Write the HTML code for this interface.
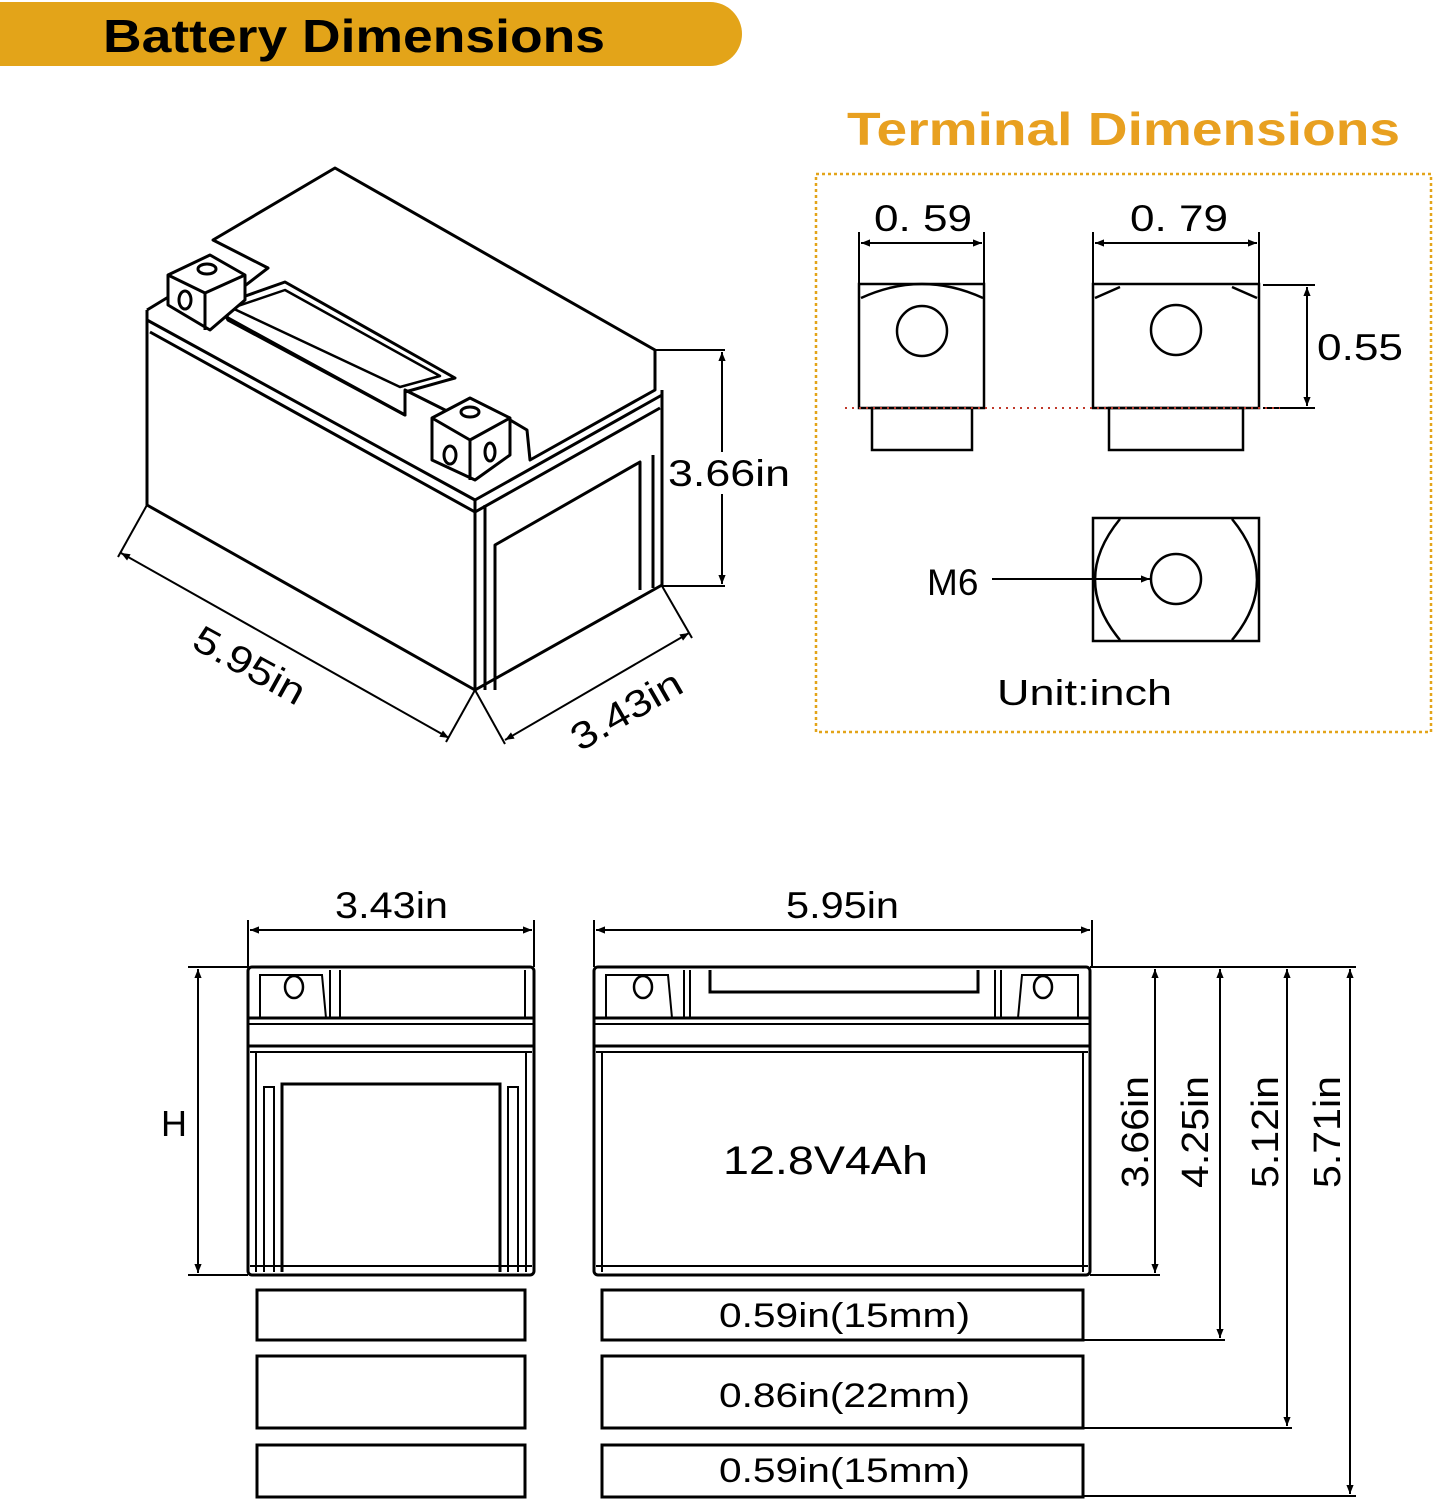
<!DOCTYPE html>
<html><head><meta charset="utf-8"><style>
html,body{margin:0;padding:0;background:#fff;}
svg{display:block;}
text{font-family:"Liberation Sans",sans-serif;}
</style></head><body>
<svg width="1436" height="1500" viewBox="0 0 1436 1500" xmlns="http://www.w3.org/2000/svg">
<defs>
<marker id="a" viewBox="0 0 10 10" refX="10" refY="5" markerWidth="18" markerHeight="9" orient="auto-start-reverse" markerUnits="userSpaceOnUse"><path d="M0,1 L10,5 L0,9 z" fill="#000"/></marker>
</defs>
<path d="M0,2 H710 A32,32 0 0 1 710,66 H0 Z" fill="#e3a419"/>
<text x="103" y="52" font-size="46" font-weight="bold" textLength="502" lengthAdjust="spacingAndGlyphs">Battery Dimensions</text>
<text x="847" y="145" font-size="46" font-weight="bold" fill="#e8a020" textLength="553" lengthAdjust="spacingAndGlyphs">Terminal Dimensions</text>

<g fill="none" stroke="#000" stroke-width="3" stroke-linejoin="round">
<polygon points="213,240 335,168 655,350 655,390 530,460 527,430 490,408 465,420 405,390 405,415 228,318 220,305 268,268 213,240" fill="#fff"/>
<polyline points="147,310 147,505 475,690 662,585 662,390"/>
<polyline points="147,310 170,296"/>
<polyline points="147,320 475,500 662,395"/>
<polyline points="150,332 475,512 660,408"/>
<line x1="475" y1="500" x2="475" y2="690"/>
<line x1="485" y1="505" x2="485" y2="690"/>
<polyline points="495,690 495,545 640,462 640,590"/>
<polyline points="653,455 653,588"/>
<polygon points="220,305 285,282 455,378 405,392 405,415 228,320"/>
<polygon points="232,308 285,290 440,376 400,387" stroke-width="2.5"/>
<polygon points="168,275 210,255 245,275 245,300 210,330 168,305" fill="#fff"/>
<polyline points="168,275 205,293 245,275"/>
<line x1="205" y1="293" x2="205" y2="330"/>
<ellipse cx="207" cy="269" rx="9" ry="5"/>
<ellipse cx="185" cy="300" rx="6" ry="9"/>
<polygon points="432,418 470,398 510,418 510,455 475,480 432,460" fill="#fff"/>
<polyline points="432,418 470,440 510,418"/>
<line x1="470" y1="440" x2="470" y2="480"/>
<ellipse cx="470" cy="412" rx="9" ry="5"/>
<ellipse cx="450" cy="455" rx="6" ry="9"/>
<ellipse cx="490" cy="452" rx="5" ry="9"/>
</g>
<g stroke="#000" stroke-width="2" fill="none">
<line x1="655" y1="350" x2="725" y2="350"/>
<line x1="662" y1="586" x2="725" y2="586"/>
<line x1="722" y1="352" x2="722" y2="584" marker-start="url(#a)" marker-end="url(#a)"/>
<line x1="147" y1="505" x2="118" y2="557"/>
<line x1="475" y1="690" x2="446" y2="742"/>
<line x1="121" y1="553" x2="449" y2="738" marker-start="url(#a)" marker-end="url(#a)"/>
<line x1="475" y1="690" x2="505" y2="744"/>
<line x1="662" y1="586" x2="692" y2="638"/>
<line x1="505" y1="740" x2="689" y2="633" marker-start="url(#a)" marker-end="url(#a)"/>
</g>
<rect x="667" y="452" width="125" height="42" fill="#fff"/>
<text x="668" y="486" font-size="37" textLength="122" lengthAdjust="spacingAndGlyphs">3.66in</text>
<text transform="translate(190,647) rotate(29)" font-size="38" textLength="122" lengthAdjust="spacingAndGlyphs">5.95in</text>
<text transform="translate(580,752) rotate(-30)" font-size="38" textLength="122" lengthAdjust="spacingAndGlyphs">3.43in</text>

<rect x="816" y="174" width="615" height="558" fill="none" stroke="#e3a419" stroke-width="2.5" stroke-dasharray="3,3"/>
<g fill="none" stroke="#000" stroke-width="2.5">
<rect x="859" y="284" width="125" height="124"/>
<rect x="872" y="408" width="100" height="42"/>
<path d="M861,298 Q922,270 983,298"/>
<circle cx="922" cy="331" r="25"/>
<rect x="1093" y="284" width="166" height="124"/>
<rect x="1109" y="408" width="134" height="42"/>
<path d="M1095,298 L1120,287 M1257,298 L1232,287"/>
<circle cx="1176" cy="330" r="25"/>
<rect x="1093" y="518" width="166" height="123"/>
<path d="M1120,519 Q1070,580 1120,640 M1232,519 Q1282,580 1232,640"/>
<circle cx="1176" cy="579" r="25"/>
</g>
<g stroke="#000" stroke-width="2" fill="none">
<line x1="859" y1="232" x2="859" y2="284"/><line x1="984" y1="232" x2="984" y2="284"/>
<line x1="861" y1="243" x2="982" y2="243" marker-start="url(#a)" marker-end="url(#a)"/>
<line x1="1093" y1="232" x2="1093" y2="284"/><line x1="1259" y1="232" x2="1259" y2="284"/>
<line x1="1095" y1="243" x2="1257" y2="243" marker-start="url(#a)" marker-end="url(#a)"/>
<line x1="1263" y1="285" x2="1315" y2="285"/><line x1="1263" y1="408" x2="1315" y2="408"/>
<line x1="1307" y1="287" x2="1307" y2="406" marker-start="url(#a)" marker-end="url(#a)"/>
<line x1="992" y1="579" x2="1150" y2="579" marker-end="url(#a)"/>
</g>
<line x1="845" y1="408" x2="1280" y2="408" stroke="#c0392b" stroke-width="2" stroke-dasharray="2,5"/>
<text x="874" y="231" font-size="37" textLength="98" lengthAdjust="spacingAndGlyphs">0. 59</text>
<text x="1130" y="231" font-size="37" textLength="98" lengthAdjust="spacingAndGlyphs">0. 79</text>
<text x="1317" y="360" font-size="37" textLength="86" lengthAdjust="spacingAndGlyphs">0.55</text>
<text x="927" y="595" font-size="37">M6</text>
<text x="997" y="705" font-size="36" textLength="175" lengthAdjust="spacingAndGlyphs">Unit:inch</text>

<g fill="none" stroke="#000" stroke-width="3">
<rect x="248" y="967" width="286" height="308" rx="4"/>
<line x1="248" y1="1018" x2="534" y2="1018"/>
<line x1="248" y1="1024" x2="534" y2="1024" stroke-width="2"/>
<line x1="248" y1="1046" x2="534" y2="1046"/>
<line x1="250" y1="1052" x2="532" y2="1052" stroke-width="2"/>
<polyline points="260,1018 260,975 322,975 326,1018" stroke-width="2"/>
<line x1="330" y1="970" x2="330" y2="1018" stroke-width="2"/><line x1="340" y1="970" x2="340" y2="1018" stroke-width="2"/>
<line x1="525" y1="970" x2="525" y2="1018" stroke-width="2"/>
<line x1="256" y1="1052" x2="256" y2="1272" stroke-width="2"/><line x1="526" y1="1052" x2="526" y2="1272" stroke-width="2"/>
<polyline points="264,1272 264,1087 274,1087 274,1272" stroke-width="2"/>
<polyline points="508,1272 508,1087 518,1087 518,1272" stroke-width="2"/>
<polyline points="282,1272 282,1084 500,1084 500,1272"/>
<line x1="250" y1="1266" x2="532" y2="1266" stroke-width="2"/>
<ellipse cx="294" cy="987" rx="9" ry="11" stroke-width="2.5"/>
<rect x="594" y="967" width="496" height="308" rx="4"/>
<line x1="594" y1="1018" x2="1090" y2="1018"/>
<line x1="594" y1="1024" x2="1090" y2="1024" stroke-width="2"/>
<line x1="594" y1="1046" x2="1090" y2="1046"/>
<line x1="596" y1="1052" x2="1088" y2="1052" stroke-width="2"/>
<line x1="602" y1="1052" x2="602" y2="1272" stroke-width="2"/><line x1="1083" y1="1052" x2="1083" y2="1272" stroke-width="2"/>
<line x1="596" y1="1266" x2="1088" y2="1266" stroke-width="2"/>
<polyline points="606,1018 606,975 668,975 672,1018" stroke-width="2"/>
<line x1="684" y1="970" x2="684" y2="1018" stroke-width="2"/><line x1="690" y1="970" x2="690" y2="1018" stroke-width="2"/>
<polyline points="710,970 710,992 978,992 978,970"/>
<line x1="995" y1="970" x2="995" y2="1018" stroke-width="2"/><line x1="1001" y1="970" x2="1001" y2="1018" stroke-width="2"/>
<polyline points="1078,1018 1078,975 1022,975 1018,1018" stroke-width="2"/>
<ellipse cx="643" cy="987" rx="9" ry="11" stroke-width="2.5"/>
<ellipse cx="1043" cy="987" rx="9" ry="11" stroke-width="2.5"/>
<rect x="257" y="1290" width="268" height="50"/>
<rect x="257" y="1356" width="268" height="72"/>
<rect x="257" y="1445" width="268" height="52"/>
<rect x="602" y="1290" width="481" height="50"/>
<rect x="602" y="1356" width="481" height="72"/>
<rect x="602" y="1445" width="481" height="52"/>
</g>
<g stroke="#000" stroke-width="2" fill="none">
<line x1="248" y1="920" x2="248" y2="967"/><line x1="534" y1="920" x2="534" y2="967"/>
<line x1="250" y1="930" x2="532" y2="930" marker-start="url(#a)" marker-end="url(#a)"/>
<line x1="594" y1="920" x2="594" y2="967"/><line x1="1092" y1="920" x2="1092" y2="967"/>
<line x1="596" y1="930" x2="1090" y2="930" marker-start="url(#a)" marker-end="url(#a)"/>
<line x1="188" y1="967" x2="248" y2="967"/><line x1="188" y1="1275" x2="248" y2="1275"/>
<line x1="198" y1="969" x2="198" y2="1273" marker-start="url(#a)" marker-end="url(#a)"/>
<line x1="1090" y1="967" x2="1356" y2="967"/>
<line x1="1090" y1="1275" x2="1160" y2="1275"/>
<line x1="1083" y1="1340" x2="1225" y2="1340"/>
<line x1="1083" y1="1428" x2="1292" y2="1428"/>
<line x1="1083" y1="1496" x2="1356" y2="1496"/>
<line x1="1155" y1="969" x2="1155" y2="1273" marker-start="url(#a)" marker-end="url(#a)"/>
<line x1="1220" y1="969" x2="1220" y2="1338" marker-start="url(#a)" marker-end="url(#a)"/>
<line x1="1287" y1="969" x2="1287" y2="1426" marker-start="url(#a)" marker-end="url(#a)"/>
<line x1="1350" y1="969" x2="1350" y2="1494" marker-start="url(#a)" marker-end="url(#a)"/>
</g>
<text x="335" y="918" font-size="37" textLength="113" lengthAdjust="spacingAndGlyphs">3.43in</text>
<text x="786" y="918" font-size="37" textLength="113" lengthAdjust="spacingAndGlyphs">5.95in</text>
<text x="161" y="1136" font-size="36">H</text>
<text x="723" y="1174" font-size="40" textLength="205" lengthAdjust="spacingAndGlyphs">12.8V4Ah</text>
<g font-size="38" text-anchor="middle">
<text transform="translate(1148,1132) rotate(-90)" textLength="112" lengthAdjust="spacingAndGlyphs">3.66in</text>
<text transform="translate(1208,1132) rotate(-90)" textLength="112" lengthAdjust="spacingAndGlyphs">4.25in</text>
<text transform="translate(1278,1132) rotate(-90)" textLength="112" lengthAdjust="spacingAndGlyphs">5.12in</text>
<text transform="translate(1340,1132) rotate(-90)" textLength="112" lengthAdjust="spacingAndGlyphs">5.71in</text>
</g>
<g font-size="34">
<text x="719" y="1327" textLength="251" lengthAdjust="spacingAndGlyphs">0.59in(15mm)</text>
<text x="719" y="1407" textLength="251" lengthAdjust="spacingAndGlyphs">0.86in(22mm)</text>
<text x="719" y="1482" textLength="251" lengthAdjust="spacingAndGlyphs">0.59in(15mm)</text>
</g>
</svg>
</body></html>
